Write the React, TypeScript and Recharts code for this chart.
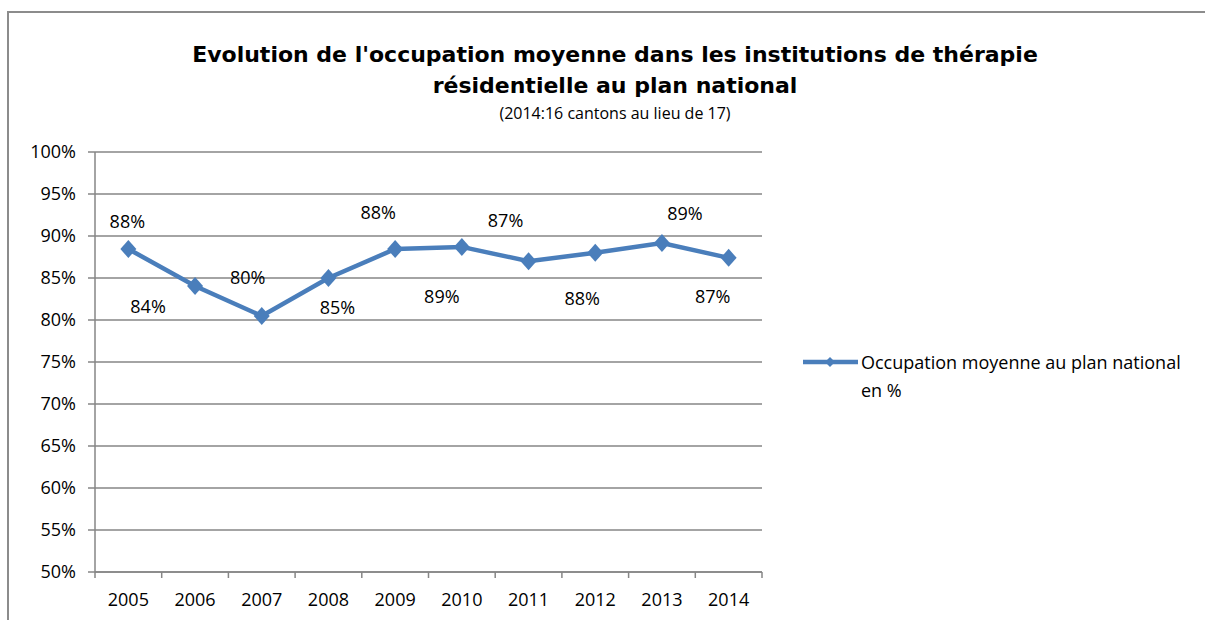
import { LineChart, Line, XAxis, YAxis, CartesianGrid, LabelList } from 'recharts'

const years = ['2005', '2006', '2007', '2008', '2009', '2010', '2011', '2012', '2013', '2014']
const occupation = [88.45, 84.05, 80.48, 85.0, 88.45, 88.7, 87.0, 88.0, 89.17, 87.4]
const yTicks = [50, 55, 60, 65, 70, 75, 80, 85, 90, 95, 100]
// manual label placement (dx, dy) relative to each point, like the Excel original
const labelNudges: [number, number][] = [
  [-1, -27], [-47, 21], [-14, -38], [9, 30], [-17, -36],
  [-20, 50], [-23, -41], [-13, 46], [23, -29], [-16, 39],
]

const data = years.map((year, i) => ({ year, value: occupation[i] }))

const BLUE = '#4a7ebb'
const GRID = '#868686'
const FONT = '"Open Sans", sans-serif'

function Diamond(props: any) {
  const { cx, cy, index } = props
  if (cx == null || cy == null) return null
  return <path key={index} d={`M${cx},${cy - 9} L${cx + 8},${cy} L${cx},${cy + 9} L${cx - 8},${cy} Z`} fill={BLUE} />
}

function YearTick(props: any) {
  const { x, y, payload, width, visibleTicksCount, index } = props
  const half = payload.offset > 2 ? payload.offset : width / visibleTicksCount / 2
  const last = index === visibleTicksCount - 1
  return (
    <g>
      <line x1={x - half} x2={x - half} y1={y} y2={y + 6} stroke={GRID} strokeWidth={1.5} />
      {last && <line x1={x + half} x2={x + half} y1={y} y2={y + 6} stroke={GRID} strokeWidth={1.5} />}
      <text x={x} y={y + 34} textAnchor="middle" fill="#000" fontSize={18} fontFamily={FONT}>
        {payload.value}
      </text>
    </g>
  )
}

function PointLabel(props: any) {
  const { x, y, value, index } = props
  const [dx, dy] = labelNudges[index] ?? [0, -30]
  return (
    <text x={x + dx} y={y + dy} dy="0.355em" textAnchor="middle" fill="#000" fontSize={18} fontFamily={FONT}>
      {Math.round(value)}%
    </text>
  )
}

export default function App() {
  return (
    <div style={{ position: 'absolute', left: 0, top: 0, width: 1205, height: 620, background: '#fff', overflow: 'hidden', fontFamily: FONT }}>
      <div style={{ position: 'absolute', left: 7, top: 11, width: 1260, height: 700, borderTop: '2px solid #8c8c8c', borderLeft: '2px solid #8c8c8c' }} />
      <div style={{ position: 'absolute', left: 0, width: 1230, top: 39, textAlign: 'center', fontWeight: 700, fontSize: 22, lineHeight: '31px', color: '#000', fontFamily: '"DejaVu Sans", sans-serif' }}>
        Evolution de l'occupation moyenne dans les institutions de thérapie
        <br />
        résidentielle au plan national
      </div>
      <div style={{ position: 'absolute', left: 0, width: 1230, top: 102, textAlign: 'center', fontSize: 16, lineHeight: '22px', color: '#000' }}>
        (2014:16 cantons au lieu de 17)
      </div>
      <div style={{ position: 'absolute', left: 0, top: 0 }}>
        <LineChart width={1205} height={620} data={data} margin={{ top: 152, right: 443, bottom: 0, left: 0 }}>
          <CartesianGrid vertical={false} stroke={GRID} strokeWidth={1.5} />
          <XAxis
            dataKey="year"
            scale="band"
            interval={0}
            height={48}
            axisLine={{ stroke: GRID, strokeWidth: 1.5 }}
            tickLine={false}
            tickSize={0}
            tickMargin={0}
            tick={<YearTick />}
          />
          <YAxis
            width={95}
            domain={[50, 100]}
            ticks={yTicks}
            interval={0}
            tickFormatter={(v: number) => `${v}%`}
            axisLine={{ stroke: GRID, strokeWidth: 1.5 }}
            tickLine={{ stroke: GRID, strokeWidth: 1.5 }}
            tickSize={7}
            tickMargin={12}
            tick={{ fill: '#000', fontSize: 18, fontFamily: FONT }}
          />
          <Line
            type="linear"
            dataKey="value"
            stroke={BLUE}
            strokeWidth={4.5}
            dot={<Diamond />}
            activeDot={false}
            isAnimationActive={false}
          >
            <LabelList dataKey="value" content={<PointLabel />} />
          </Line>
        </LineChart>
      </div>
      <div style={{ position: 'absolute', left: 803, top: 348, display: 'flex', alignItems: 'flex-start' }}>
        <svg width={58} height={28} style={{ flex: 'none' }}>
          <line x1={0} x2={55} y1={14} y2={14} stroke={BLUE} strokeWidth={4.5} />
          <path d="M27,9 L32,14 L27,19 L22,14 Z" fill={BLUE} />
        </svg>
        <div style={{ width: 336, fontSize: 18, lineHeight: '28px', color: '#000' }}>
          Occupation moyenne au plan national en %
        </div>
      </div>
    </div>
  )
}
